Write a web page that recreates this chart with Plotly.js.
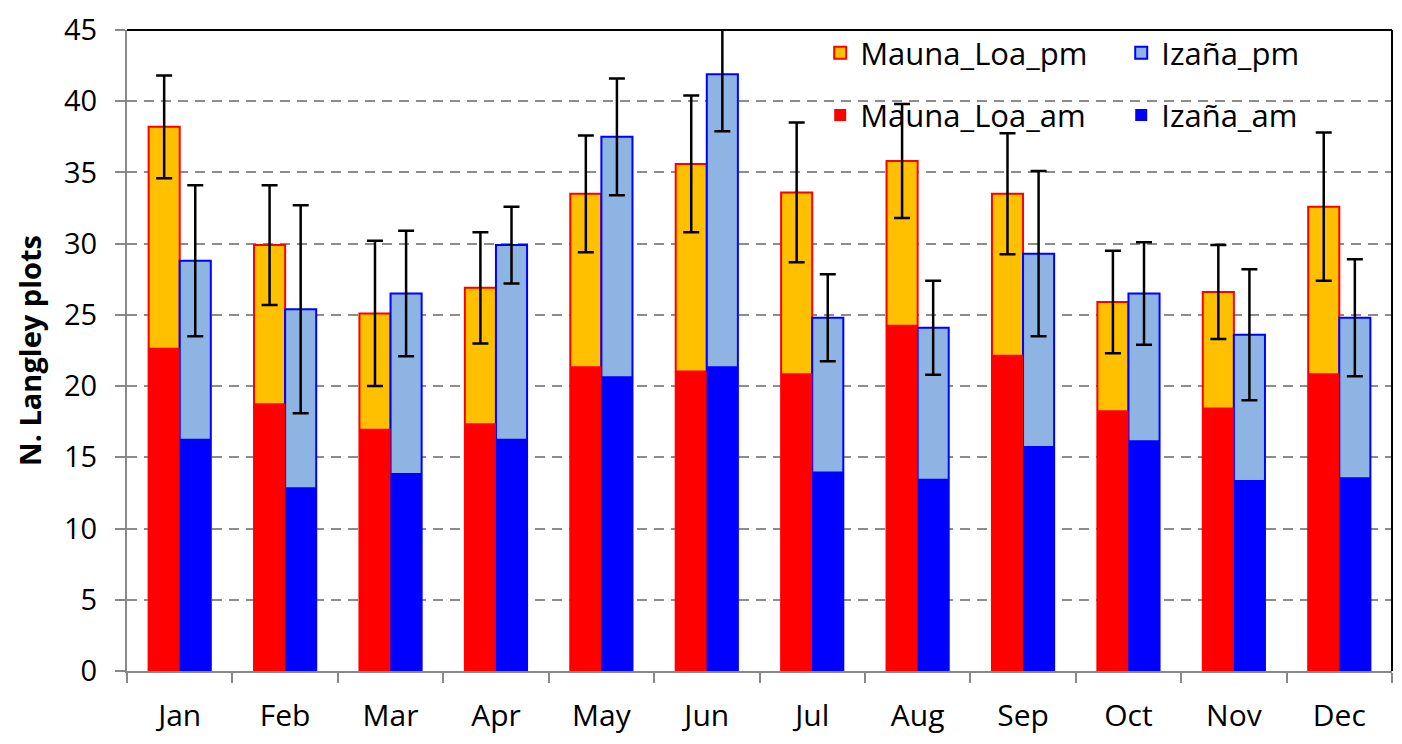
<!DOCTYPE html>
<html>
<head>
<meta charset="utf-8">
<script src="https://cdn.plot.ly/plotly-3.0.1.min.js"></script>
<style>
  body { margin: 0; background: #fff; }
  #chart { width: 1402px; height: 744px; }
</style>
</head>
<body>
<div id="chart"></div>
<script>
// months on the x axis
var months = ["Jan", "Feb", "Mar", "Apr", "May", "Jun", "Jul", "Aug", "Sep", "Oct", "Nov", "Dec"]

// Mauna Loa: top of the stacked bar (am + pm), the am part, and the error on the top
var mauna_total = [38.2, 29.9, 25.1, 26.9, 33.5, 35.6, 33.6, 35.8, 33.5, 25.9, 26.6, 32.6]
var mauna_am    = [22.7, 18.8, 17.0, 17.4, 21.4, 21.1, 20.9, 24.3, 22.2, 18.3, 18.5, 20.9]
var mauna_err   = [3.6, 4.2, 5.1, 3.9, 4.1, 4.8, 4.9, 4.0, 4.25, 3.6, 3.3, 5.2]

// Izaña: same layout
var izana_total = [28.8, 25.4, 26.5, 29.9, 37.5, 41.9, 24.8, 24.1, 29.3, 26.5, 23.6, 24.8]
var izana_am    = [16.3, 12.9, 13.9, 16.3, 20.7, 21.4, 14.0, 13.5, 15.8, 16.2, 13.4, 13.6]
var izana_err   = [5.3, 7.3, 4.4, 2.7, 4.1, 4.0, 3.05, 3.3, 5.8, 3.6, 4.6, 4.1]

var font_family = "'Open Sans', 'DejaVu Sans', sans-serif"
var bar_w = 0.295

function err(arr) {
    return {type: 'data', array: arr, visible: true, color: '#000', thickness: 2.5, width: 8}
}

var trace_ml_pm = {
    type: 'bar', name: 'Mauna_Loa_pm', x: months, y: mauna_total,
    width: bar_w, offset: -bar_w,
    marker: {color: '#FFC000', line: {color: '#FF0000', width: 2}},
    error_y: err(mauna_err),
    legend: 'legend'
}
var trace_iz_pm = {
    type: 'bar', name: 'Izaña_pm', x: months, y: izana_total,
    width: bar_w, offset: 0,
    marker: {color: '#8EB4E3', line: {color: '#0000FF', width: 2}},
    error_y: err(izana_err),
    legend: 'legend'
}
var trace_ml_am = {
    type: 'bar', name: 'Mauna_Loa_am', x: months, y: mauna_am,
    width: bar_w, offset: -bar_w,
    marker: {color: '#FF0000', line: {width: 0}},
    legend: 'legend2'
}
var trace_iz_am = {
    type: 'bar', name: 'Izaña_am', x: months, y: izana_am,
    width: bar_w, offset: 0,
    marker: {color: '#0000FF', line: {width: 0}},
    legend: 'legend2'
}

var data = [trace_ml_pm, trace_iz_pm, trace_ml_am, trace_iz_am]

var legend_common = {
    orientation: 'h',
    x: 0.548,
    xanchor: 'left',
    yanchor: 'middle',
    bgcolor: 'rgba(0,0,0,0)',
    entrywidth: 256,
    entrywidthmode: 'pixels',
    font: {family: font_family, size: 31, color: '#000'},
    traceorder: 'normal'
}

var layout = {
    width: 1402,
    height: 744,
    margin: {l: 127, r: 10, t: 30, b: 73, pad: 0, autoexpand: false},
    paper_bgcolor: '#fff',
    plot_bgcolor: '#fff',
    barmode: 'overlay',
    showlegend: true,
    legend: Object.assign({}, legend_common, {y: 0.964}),
    legend2: Object.assign({}, legend_common, {y: 0.867}),
    xaxis: {
        type: 'category',
        range: [-0.5, 11.5],
        showline: true,
        linecolor: '#888',
        linewidth: 2,
        ticks: 'outside',
        tickson: 'boundaries',
        ticklen: 10,
        tickwidth: 2,
        tickcolor: '#888',
        showgrid: false,
        automargin: false,
        ticklabelstandoff: 17,
        tickfont: {family: font_family, size: 30, color: '#000'}
    },
    yaxis: {
        range: [0, 45],
        dtick: 5,
        tick0: 0,
        showline: true,
        linecolor: '#888',
        linewidth: 2,
        ticks: 'outside',
        ticklen: 10,
        tickwidth: 2,
        tickcolor: '#888',
        zeroline: false,
        showgrid: true,
        gridcolor: '#8c8c8c',
        gridwidth: 2,
        griddash: '10px,7px',
        automargin: false,
        ticklabelstandoff: 12,
        tickfont: {family: font_family, size: 29, color: '#000'},
        title: {
            text: '<b>N. Langley plots</b>',
            font: {family: font_family, size: 29, color: '#000'},
            standoff: 14
        }
    },
    shapes: [
        {type: 'line', xref: 'paper', yref: 'paper', x0: 0, x1: 1, y0: 1, y1: 1, line: {color: '#000', width: 2}},
        {type: 'line', xref: 'paper', yref: 'paper', x0: 1, x1: 1, y0: 0, y1: 1, line: {color: '#000', width: 2}}
    ]
}

Plotly.newPlot('chart', data, layout, {displayModeBar: false, staticPlot: true})
</script>
</body>
</html>
